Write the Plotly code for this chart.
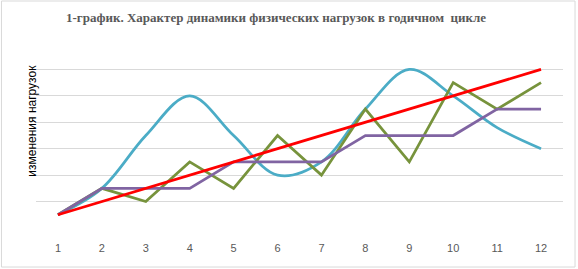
import plotly.graph_objects as go

months = [1, 2, 3, 4, 5, 6, 7, 8, 9, 10, 11, 12]
cyan_vals = [0.5, 1.5, 3.5, 5.0, 3.5, 2.0, 2.5, 4.5, 6.0, 5.0, 3.8, 3.0]
green_vals = [0.5, 1.5, 1.0, 2.5, 1.5, 3.5, 2.0, 4.5, 2.5, 5.5, 4.5, 5.5]
purple_vals = [0.5, 1.5, 1.5, 1.5, 2.5, 2.5, 2.5, 3.5, 3.5, 3.5, 4.5, 4.5]
red_vals = [0.5, 1.0, 1.5, 2.0, 2.5, 3.0, 3.5, 4.0, 4.5, 5.0, 5.5, 6.0]

title_text = "1-график. Характер динамики физических нагрузок в годичном  цикле"
y_title = "изменения нагрузок"

fig = go.Figure()
fig.add_trace(go.Scatter(x=months, y=cyan_vals, mode="lines",
                         line=dict(color="#4BACC6", width=2.75, shape="spline", smoothing=1.0)))
fig.add_trace(go.Scatter(x=months, y=green_vals, mode="lines",
                         line=dict(color="#77933C", width=2.75)))
fig.add_trace(go.Scatter(x=months, y=purple_vals, mode="lines",
                         line=dict(color="#8064A2", width=2.75)))
fig.add_trace(go.Scatter(x=months, y=red_vals, mode="lines",
                         line=dict(color="#FF0000", width=2.75)))

fig.update_layout(
    width=578, height=269,
    margin=dict(l=36, r=15, t=43, b=41, autoexpand=False),
    paper_bgcolor="white", plot_bgcolor="white",
    showlegend=False,
    xaxis=dict(range=[0.5, 12.5], tickmode="array", tickvals=months,
               ticktext=[str(m) for m in months], showgrid=False, zeroline=False,
               showline=False, ticks="outside", ticklen=10, tickcolor="rgba(0,0,0,0)",
               automargin=False,
               tickfont=dict(family="Liberation Sans, Arial", size=11, color="#595959")),
    yaxis=dict(range=[0, 7], dtick=1, showgrid=True, gridcolor="#D9D9D9", gridwidth=1,
               showticklabels=False, zeroline=False, showline=False, automargin=False),
    annotations=[
        dict(text="<b>" + title_text + "</b>", xref="paper", yref="paper",
             x=0.455, y=1.0, yshift=26, xanchor="center", yanchor="middle", showarrow=False,
             font=dict(family="Liberation Serif, Times New Roman", size=13, color="#595959")),
        dict(text=y_title, xref="paper", yref="paper", x=0, xshift=-4, y=0.58,
             textangle=-90, xanchor="center", yanchor="middle", showarrow=False,
             font=dict(family="Liberation Sans, Arial", size=12, color="#000000")),
    ],
    shapes=[dict(type="rect", xref="paper", yref="paper", x0=-0.0655, x1=1.0228,
                 y0=-0.211, y1=1.227, line=dict(color="#D9D9D9", width=1))],
)

fig.write_html("out.html", config={"displayModeBar": False},
               post_script="document.body.style.margin='0';document.body.style.overflow='hidden';")
